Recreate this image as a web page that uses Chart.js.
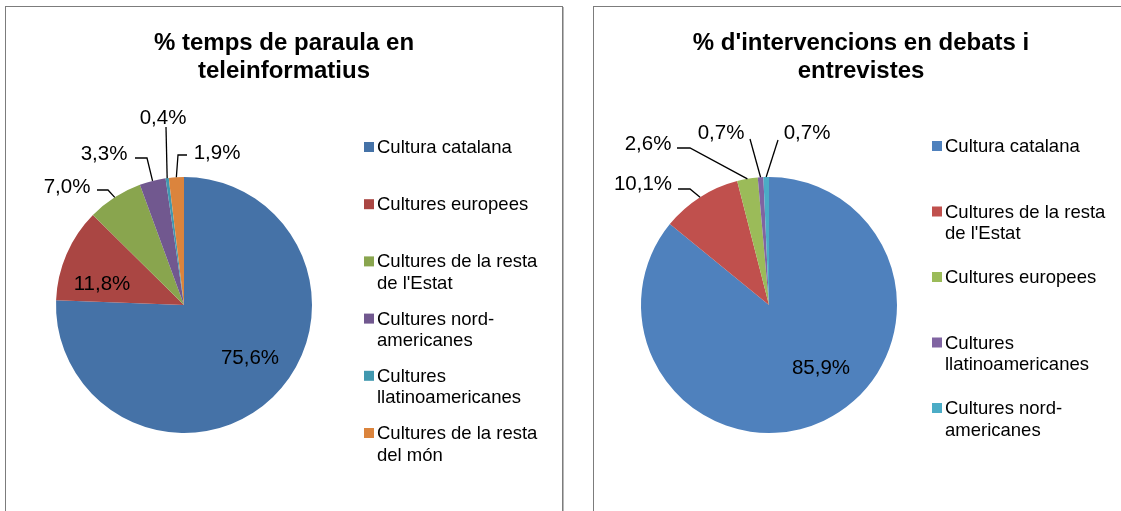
<!DOCTYPE html>
<html><head><meta charset="utf-8">
<script src="https://cdn.jsdelivr.net/npm/chart.js@4.4.1/dist/chart.umd.min.js"></script>
<style>
html,body{margin:0;padding:0;background:#fff;width:1121px;height:511px;overflow:hidden;position:relative;}
.panel{position:absolute;top:6px;height:600px;border:1px solid #7c7c7c;box-shadow:1px 1px 0 #b8b8b8;box-sizing:border-box;}
canvas{position:absolute;left:0;top:0;}
</style></head><body>
<div class="panel" style="left:5px;width:558px"></div>
<div class="panel" style="left:593px;width:560px"></div>
<canvas id="c1" width="1121" height="511"></canvas>
<canvas id="c2" width="1121" height="511"></canvas>
<script>
// ---- data ----
const leftTitle = ['% temps de paraula en', 'teleinformatius'];
const leftCategories = [['Cultura catalana'], ['Cultures europees'], ['Cultures de la resta', "de l'Estat"], ['Cultures nord-', 'americanes'], ['Cultures', 'llatinoamericanes'], ['Cultures de la resta', 'del món']];
const leftValues = [75.6, 11.8, 7.0, 3.3, 0.4, 1.9];
const leftColors = ['#4572A7', '#AA4643', '#89A54E', '#71588F', '#4198AF', '#DB843D'];

const rightTitle = ["% d'intervencions en debats i", 'entrevistes'];
const rightCategories = [['Cultura catalana'], ['Cultures de la resta', "de l'Estat"], ['Cultures europees'], ['Cultures', 'llatinoamericanes'], ['Cultures nord-', 'americanes']];
const rightValues = [85.9, 10.1, 2.6, 0.7, 0.7];
const rightColors = ['#4F81BD', '#C0504D', '#9BBB59', '#8064A2', '#4BACC6'];

// ---- rendering ----
const FONT = "'Liberation Sans', Arial, sans-serif";
function fmt(v) { return v.toFixed(1).replace('.', ',') + '%'; }

const overlay = {
  id: 'overlay',
  afterDatasetsDraw(chart, args, o) {
    const ctx = chart.ctx;
    const meta = chart.getDatasetMeta(0);
    const ds = chart.data.datasets[0];
    ctx.save();
    ctx.fillStyle = '#000';
    ctx.textBaseline = 'middle';
    // title
    ctx.textAlign = 'center';
    ctx.font = 'bold 24px ' + FONT;
    o.title.forEach((t, i) => ctx.fillText(t, o.titleX, o.titleY + i * o.titleLH));
    // legend
    ctx.textAlign = 'left';
    ctx.font = o.legendFont + 'px ' + FONT;
    chart.data.labels.forEach((lab, i) => {
      const y = o.legendY + i * o.legendStep;
      ctx.fillStyle = ds.backgroundColor[i];
      ctx.fillRect(o.legendX, y - 5, 10, 10);
      ctx.fillStyle = '#000';
      lab.forEach((ln, j) => ctx.fillText(ln, o.legendX + 13, y + 1 + j * o.legendLH));
    });
    // data labels with leader lines
    ctx.textAlign = 'center';
    ctx.font = o.labelFont + 'px ' + FONT;
    ctx.strokeStyle = '#000';
    ctx.lineWidth = 1.3;
    meta.data.forEach((arc, i) => {
      const L = o.labels[i];
      const p = arc.getProps(['x', 'y', 'startAngle', 'endAngle', 'outerRadius'], true);
      const mid = (p.startAngle + p.endAngle) / 2;
      ctx.fillText(fmt(ds.data[i]), p.x + L.t[0], p.y + L.t[1]);
      if (L.path) {
        ctx.beginPath();
        ctx.moveTo(p.x + L.path[0][0], p.y + L.path[0][1]);
        for (let k = 1; k < L.path.length; k++) ctx.lineTo(p.x + L.path[k][0], p.y + L.path[k][1]);
        ctx.lineTo(p.x + Math.cos(mid) * p.outerRadius, p.y + Math.sin(mid) * p.outerRadius);
        ctx.stroke();
      }
    });
    ctx.restore();
  }
};

function makeChart(id, labels, values, colors, pad, ov) {
  return new Chart(document.getElementById(id), {
    type: 'pie',
    data: { labels: labels, datasets: [{ data: values, backgroundColor: colors, borderWidth: 0 }] },
    options: {
      responsive: false, animation: false,
      layout: { padding: pad },
      plugins: { legend: { display: false }, title: { display: false }, tooltip: { enabled: false }, overlay: ov }
    },
    plugins: [overlay]
  });
}

makeChart('c1', leftCategories, leftValues, leftColors,
  { left: 56, top: 177, right: 809, bottom: 78 },
  {
    title: leftTitle, titleX: 284, titleY: 43, titleLH: 28,
    legendX: 364, legendY: 147, legendStep: 57.2, legendLH: 21.5, legendFont: 18.5,
    labelFont: 20.5,
    labels: [
      { t: [66, 53] },
      { t: [-82, -21] },
      { t: [-117, -118], path: [[-87, -115], [-76, -115]] },
      { t: [-80, -151], path: [[-49, -147], [-37, -147]] },
      { t: [-21, -187], path: [[-18, -178]] },
      { t: [33, -152], path: [[3, -150], [-6, -150]] }
    ]
  });

makeChart('c2', rightCategories, rightValues, rightColors,
  { left: 641, top: 177, right: 224, bottom: 78 },
  {
    title: rightTitle, titleX: 861, titleY: 43, titleLH: 28,
    legendX: 932, legendY: 146, legendStep: 65.5, legendLH: 21.5, legendFont: 18.5,
    labelFont: 20.5,
    labels: [
      { t: [52, 63] },
      { t: [-126, -121], path: [[-91, -116], [-79, -116]] },
      { t: [-121, -161], path: [[-92, -157], [-79, -157]] },
      { t: [-48, -172], path: [[-19, -166]] },
      { t: [38, -172], path: [[9, -165]] }
    ]
  });
</script>
</body></html>
